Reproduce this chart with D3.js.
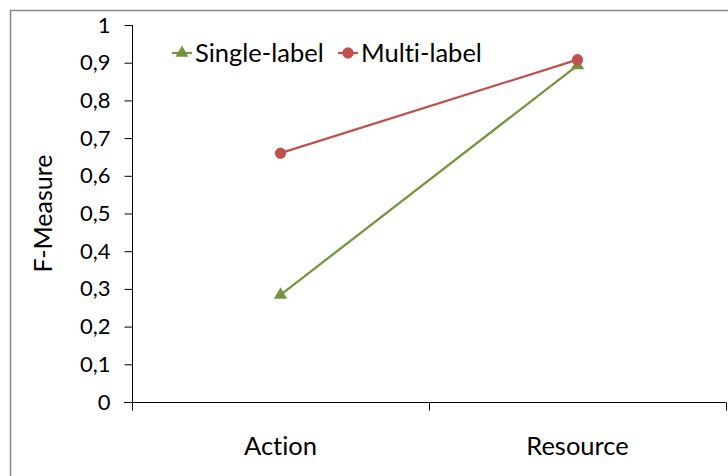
<!DOCTYPE html>
<html>
<head>
<meta charset="utf-8">
<script src="https://cdn.jsdelivr.net/npm/d3@7"></script>
<style>
  html, body { margin: 0; padding: 0; background: #fff; }
  svg { display: block; font-family: Lato, "Open Sans", sans-serif; font-variant-ligatures: none; }
</style>
</head>
<body>
<svg id="chart" width="728" height="476"></svg>
<script>
// Categories and series values
const categories = ["Action", "Resource"];
const singleLabel = [0.284, 0.893];
const multiLabel = [0.66, 0.908];
const yTicks = [0, 0.1, 0.2, 0.3, 0.4, 0.5, 0.6, 0.7, 0.8, 0.9, 1];
const seriesNames = ["Single-label", "Multi-label"];
const seriesColors = ["#77933C", "#C0504D"];

const svg = d3.select("#chart");
const margin = { left: 132, right: 2, top: 25, bottom: 74 };
const W = 728, H = 476;

// Outer chart frame
svg.append("rect")
  .attr("x", 10.5).attr("y", 10.5)
  .attr("width", 740).attr("height", 500)
  .attr("fill", "none").attr("stroke", "#878787").attr("stroke-width", 1.5);

const x = d3.scaleBand().domain(categories)
  .range([margin.left, W - margin.right]).paddingInner(0).paddingOuter(0);
const y = d3.scaleLinear().domain([0, 1]).range([H - margin.bottom, margin.top]);
const fmt = d => d3.format(".1f")(d).replace(".", ",").replace(/^0,0$/, "0").replace(/^1,0$/, "1");

// Y axis
const yAxis = svg.append("g")
  .attr("transform", `translate(${margin.left + 0.5},0)`)
  .call(d3.axisLeft(y).tickValues(yTicks).tickSize(8).tickPadding(14).tickFormat(fmt));
yAxis.selectAll("line, path").attr("stroke", "#000").attr("stroke-width", 1);
yAxis.select(".domain").attr("d", `M0,${y(1)}H0V${y(0)}`);
yAxis.selectAll("text").attr("font-size", 22).attr("fill", "#000")
  .attr("font-family", "Lato, sans-serif");

// X axis with boundary ticks between categories
const xBounds = [margin.left, x("Resource"), W - margin.right];
const xAxisG = svg.append("g").attr("transform", `translate(0,${y(0) + 0.5})`);
xAxisG.append("line").attr("x1", margin.left - 8).attr("x2", W - margin.right)
  .attr("stroke", "#000");
xAxisG.selectAll("line.tk").data(xBounds).join("line").attr("class", "tk")
  .attr("x1", d => Math.round(d) + 0.5).attr("x2", d => Math.round(d) + 0.5)
  .attr("y1", 0).attr("y2", 8).attr("stroke", "#000");
xAxisG.selectAll("text").data(categories).join("text")
  .attr("x", d => x(d) + x.bandwidth() / 2)
  .attr("y", 52)
  .attr("text-anchor", "middle")
  .attr("font-size", 25.5)
  .attr("fill", "#000")
  .text(d => d);

// Y axis title
svg.append("text")
  .attr("transform", `translate(52,${(y(0) + y(1)) / 2}) rotate(-90)`)
  .attr("text-anchor", "middle")
  .attr("font-size", 25)
  .attr("fill", "#000")
  .text("F-Measure");

const cx = d => x(d) + x.bandwidth() / 2;
const line = d3.line().x(d => cx(d.c)).y(d => y(d.v));
const seriesData = [singleLabel, multiLabel].map(vals =>
  categories.map((c, i) => ({ c, v: vals[i] })));

seriesData.forEach((pts, si) => {
  svg.append("path").datum(pts)
    .attr("d", line).attr("fill", "none")
    .attr("stroke", seriesColors[si]).attr("stroke-width", 2.25);
});

const triangle = d3.symbol().type(d3.symbolTriangle).size(75);
const circle = d3.symbol().type(d3.symbolCircle).size(100);

// Markers
svg.append("g").selectAll("path").data(seriesData[0]).join("path")
  .attr("transform", d => `translate(${cx(d.c)},${y(d.v)})`)
  .attr("d", triangle).attr("fill", seriesColors[0]);
svg.append("g").selectAll("path").data(seriesData[1]).join("path")
  .attr("transform", d => `translate(${cx(d.c)},${y(d.v)})`)
  .attr("d", circle).attr("fill", seriesColors[1]);

// Legend
const legendX = [172, 338];
seriesNames.forEach((name, i) => {
  const g = svg.append("g").attr("transform", `translate(${legendX[i]},53)`);
  g.append("line").attr("x1", 0).attr("x2", 20).attr("y1", 0).attr("y2", 0)
    .attr("stroke", seriesColors[i]).attr("stroke-width", 2.25);
  g.append("path").attr("transform", "translate(10,0)")
    .attr("d", i === 0 ? triangle : circle).attr("fill", seriesColors[i]);
  g.append("text").attr("x", 23).attr("y", 9)
    .attr("font-size", 25.5).attr("fill", "#000").text(name);
});
</script>
</body>
</html>
